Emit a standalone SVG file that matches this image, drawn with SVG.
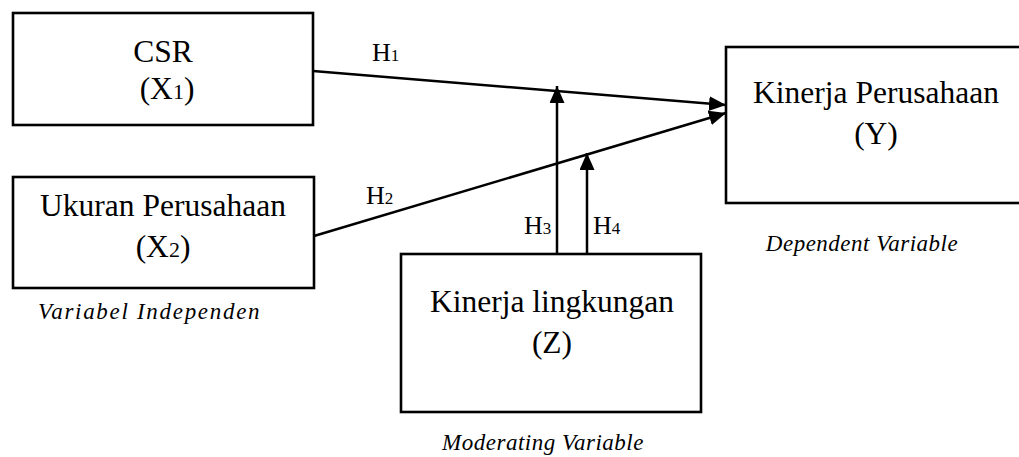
<svg xmlns="http://www.w3.org/2000/svg" width="1019" height="457" viewBox="0 0 1019 457">
<style>
.box{fill:#fff;stroke:#000;stroke-width:2.6}
.t{font-family:"Liberation Serif","Times New Roman",serif;font-size:31.5px;fill:#000;text-anchor:middle}
.h{font-family:"Liberation Serif","Times New Roman",serif;font-size:26px;fill:#000}
.it{font-family:"Liberation Serif","Times New Roman",serif;font-size:23px;font-style:italic;fill:#000}
.c{stroke:#000;stroke-width:2.5;fill:none}
</style>
<defs>
<marker id="arr" markerUnits="userSpaceOnUse" markerWidth="18" markerHeight="16" refX="17" refY="7.5" orient="auto">
<path d="M0,0 L17,7.5 L0,15 z" fill="#000"/>
</marker>
</defs>
<rect width="1019" height="457" fill="#fff"/>
<g id="node-x1">
<rect class="box" x="13" y="13" width="300" height="112"/>
<text class="t" x="163" y="62">CSR</text>
<text class="t" x="167" y="99">(X<tspan font-size="22">1</tspan>)</text>
</g>
<g id="node-x2">
<rect class="box" x="13" y="177" width="301" height="111"/>
<text class="t" x="163" y="216">Ukuran Perusahaan</text>
<text class="t" x="163" y="257">(X<tspan font-size="22">2</tspan>)</text>
<text class="it" x="38" y="319" letter-spacing="1.7">Variabel Independen</text>
</g>
<g id="node-y">
<rect class="box" x="726" y="47" width="310" height="156"/>
<text class="t" x="876" y="103">Kinerja Perusahaan</text>
<text class="t" x="876" y="144">(Y)</text>
<text class="it" x="862" y="251" text-anchor="middle" letter-spacing="0.5">Dependent Variable</text>
</g>
<g id="node-z">
<rect class="box" x="401" y="254" width="300" height="158"/>
<text class="t" x="552" y="312">Kinerja lingkungan</text>
<text class="t" x="552" y="353">(Z)</text>
<text class="it" x="543" y="450" text-anchor="middle" letter-spacing="0.5">Moderating Variable</text>
</g>
<g id="connectors">
<line class="c" x1="313" y1="71" x2="726" y2="105" marker-end="url(#arr)"/>
<line class="c" x1="314" y1="236" x2="726" y2="113" marker-end="url(#arr)"/>
<line class="c" x1="557" y1="253" x2="557" y2="86" marker-end="url(#arr)"/>
<line class="c" x1="587" y1="253" x2="587" y2="153" marker-end="url(#arr)"/>
<text class="h" x="372" y="61">H<tspan font-size="17">1</tspan></text>
<text class="h" x="366" y="204">H<tspan font-size="17">2</tspan></text>
<text class="h" x="524" y="234">H<tspan font-size="17">3</tspan></text>
<text class="h" x="593" y="234">H<tspan font-size="17">4</tspan></text>
</g>
</svg>
